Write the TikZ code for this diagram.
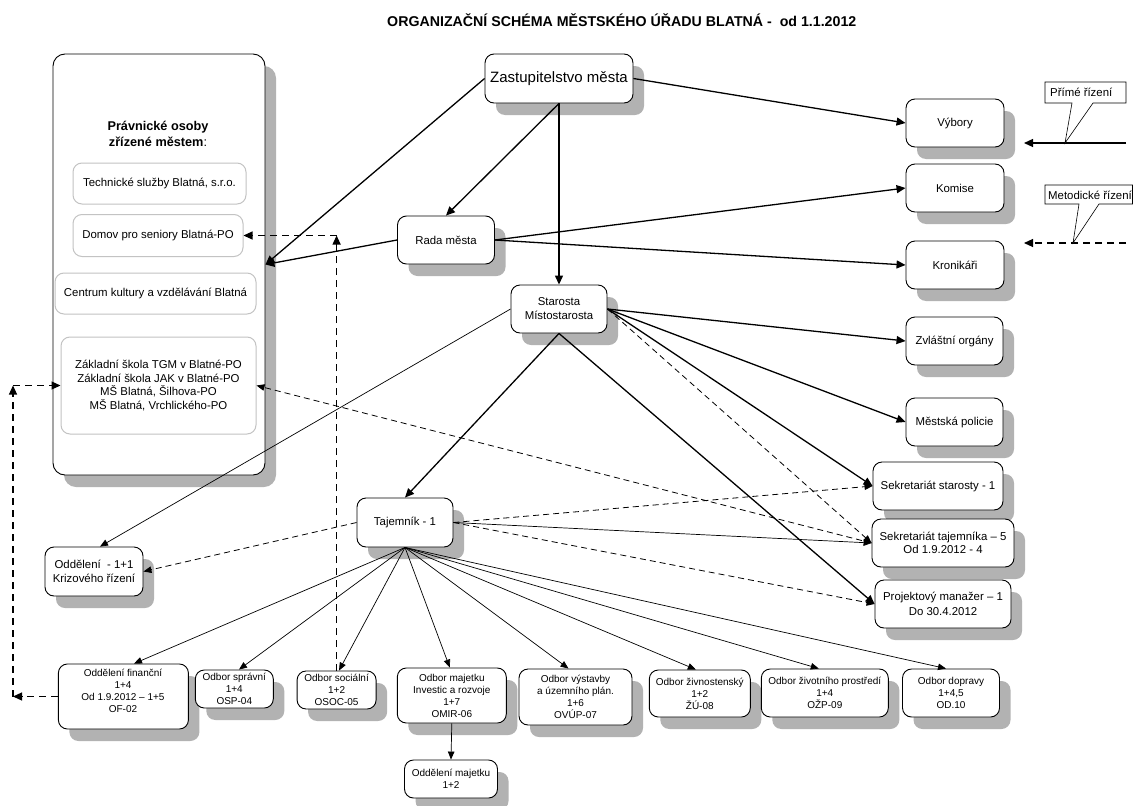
\documentclass[tikz,border=0pt]{standalone}
\usepackage{fontspec}
\setmainfont{Liberation Sans}
\usetikzlibrary{arrows.meta,shadows}
\definecolor{shd}{RGB}{178,178,178}
\definecolor{inb}{RGB}{195,195,195}
\begin{document}
\begin{tikzpicture}[x=1pt,y=-1pt,
 base/.style={draw, rounded corners=9pt, fill=white, line width=0.9pt, inner sep=0pt, align=center},
 box/.style={base, drop shadow={shadow xshift=11pt, shadow yshift=-12pt, fill=shd, opacity=1}},
 inbox/.style={draw=inb, rounded corners=9pt, fill=white, line width=1pt, inner sep=0pt, align=center},
 fA/.style={font=\fontsize{11.4pt}{13.4pt}\selectfont},
 fR/.style={font=\fontsize{11.4pt}{14pt}\selectfont},
 fB/.style={font=\fontsize{10pt}{12pt}\selectfont},
 tipA/.style={-{Triangle[length=9pt,width=8pt]}},
 thk/.style={line width=1.3pt, tipA},
 thn/.style={line width=0.7pt, -{Triangle[length=8pt,width=6.5pt]}},
 dsh/.style={line width=0.8pt, dash pattern=on 6pt off 4pt, -{Triangle[length=8pt,width=6.5pt]}},
 dshb/.style={line width=1.1pt, dash pattern=on 7pt off 5pt, tipA},
 callout/.style={line width=0.6pt, fill=white}
]
\useasboundingbox (0,0) rectangle (1133,806);

% title
\node[anchor=base west, inner sep=0pt, font=\bfseries\fontsize{14.2pt}{16pt}\selectfont] (title) at (387,26)
  {ORGANIZAČNÍ SCHÉMA MĚSTSKÉHO ÚŘADU BLATNÁ -\ \ od 1.1.2012};

% left big box
\node[box, rounded corners=12pt, minimum width=212pt, minimum height=421pt] (big) at (159,264.5) {};
\node[inner sep=0pt, align=center, font=\bfseries\fontsize{12.7pt}{16pt}\selectfont] (pravo) at (158,134)
  {Právnické osoby\\zřízené městem\mdseries:};
\node[inbox, fA, minimum width=173pt, minimum height=41pt] (tech) at (159.5,183.5) {Technické služby Blatná, s.r.o.};
\node[inbox, fA, minimum width=170pt, minimum height=42pt] (domov) at (158,235.5) {Domov pro seniory Blatná-PO};
\node[inbox, fA, minimum width=201pt, minimum height=41pt] (centrum) at (155.5,293.5) {Centrum kultury a vzdělávání Blatná};
\node[inbox, fA, minimum width=195pt, minimum height=97pt] (skola) at (158.5,385.5)
  {Základní škola TGM v Blatné-PO\\Základní škola JAK v Blatné-PO\\MŠ Blatná, Šilhova-PO\\MŠ Blatná, Vrchlického-PO};

% central nodes
\node[box, minimum width=148pt, minimum height=49pt, font=\fontsize{15pt}{17pt}\selectfont] (zast) at (559,78.5) {Zastupitelstvo města};
\node[box, fR, minimum width=97pt, minimum height=48pt] (rada) at (446,240) {Rada města};
\node[box, fR, minimum width=96pt, minimum height=48pt] (star) at (559,309) {Starosta\\Místostarosta};
\node[box, fA, minimum width=96pt, minimum height=49pt] (taj) at (405,522.5) {Tajemník - 1};
\node[box, minimum width=98pt, minimum height=49pt, font=\fontsize{11.4pt}{14.5pt}\selectfont] (kriz) at (94,571.5) {Oddělení \ - 1+1\\Krizového řízení};

% right column
\node[box, fA, minimum width=98pt, minimum height=48pt] (vybory) at (955,123) {Výbory};
\node[box, fA, minimum width=98pt, minimum height=48pt] (komise) at (955,188) {Komise};
\node[box, fA, minimum width=98pt, minimum height=48pt] (kron) at (955,265) {Kronikáři};
\node[box, fA, minimum width=97pt, minimum height=48pt] (zvl) at (954.5,341) {Zvláštní orgány};
\node[box, fA, minimum width=97pt, minimum height=48pt] (pol) at (954.5,422) {Městská policie};
\node[box, fA, minimum width=130pt, minimum height=48pt] (sekrst) at (938,486) {Sekretariát starosty - 1};
\node[box, fA, minimum width=142pt, minimum height=48pt] (sekrtaj) at (943,543) {Sekretariát tajemníka – 5\\Od 1.9.2012 - 4};
\node[box, minimum width=136pt, minimum height=48pt, font=\fontsize{11.4pt}{14.3pt}\selectfont] (proj) at (943,604) {Projektový manažer – 1\\Do 30.4.2012};

% bottom row
\node[box, minimum width=130pt, minimum height=65pt] (fin) at (123.4,696.5) {};
\node[fB, inner sep=0pt, align=center] (fintext) at (123,691) {Oddělení finanční\\1+4\\Od 1.9.2012 – 1+5\\OF-02};
\node[box, fB, minimum width=78pt, minimum height=38pt] (sprav) at (234.3,689) {Odbor správní\\1+4\\OSP-04};
\node[box, fB, minimum width=79pt, minimum height=38pt] (soc) at (336.6,690) {Odbor sociální\\1+2\\OSOC-05};
\node[box, fB, minimum width=109pt, minimum height=55pt] (maj) at (451.8,695.5) {Odbor majetku\\Investic a rozvoje\\1+7\\OMIR-06};
\node[box, fB, minimum width=93pt, minimum height=38pt] (oddmaj) at (451,779) {Oddělení majetku\\1+2};
\node[box, fB, minimum width=113pt, minimum height=56pt] (vyst) at (575.5,697) {Odbor výstavby\\a územního plán.\\1+6\\OVÚP-07};
\node[box, fB, minimum width=101pt, minimum height=47pt] (zivn) at (699.8,693.5) {Odbor živnostenský\\1+2\\ŽÚ-08};
\node[box, fB, minimum width=127pt, minimum height=48pt] (zp) at (824.8,693) {Odbor životního prostředí\\1+4\\OŽP-09};
\node[box, fB, minimum width=97pt, minimum height=48pt] (dop) at (951,693) {Odbor dopravy\\1+4,5\\OD.10};

% connectors: top part
\draw[thk] (zast.west) -- (big.east);
\draw[thk] (rada.west) -- (big.east);
\draw[thk] (zast.south) -- (rada.north);
\draw[thk] (zast.south) -- (star.north);
\draw[thk] (zast.east) -- (vybory.west);
\draw[thk] (rada.east) -- (komise.west);
\draw[thk] (rada.east) -- (kron.west);
\draw[thk] (star.east) -- (zvl.west);
\draw[thk] (star.east) -- (pol.west);
\draw[thk] (star.east) -- (sekrst.west);
\draw[thk] (star.south) -- (taj.north);
\draw[thk] (star.south) -- (proj.west);
\draw[thn] (star.west) -- ([xshift=6pt]kriz.north);
\draw[dsh] (star.east) -- (sekrtaj.west);
\draw[dsh] (sekrtaj.west) -- (skola.east);

% Tajemnik connectors
\draw[dsh] (taj.east) -- (sekrst.west);
\draw[thn] (taj.east) -- (sekrtaj.west);
\draw[dsh] (taj.east) -- (proj.west);
\draw[dsh] (taj.west) -- (kriz.east);
\draw[thn] (taj.south) -- ([xshift=10.6pt]fin.north);
\draw[thn] (taj.south) -- ([xshift=4.7pt]sprav.north);
\draw[thn] (taj.south) -- ([xshift=2.4pt]soc.north);
\draw[thn] (taj.south) -- ([xshift=-2pt]maj.north);
\draw[thn] (taj.south) -- ([xshift=-7pt]vyst.north);
\draw[thn] (taj.south) -- ([xshift=-4pt]zivn.north);
\draw[thn] (taj.south) -- ([xshift=-6pt]zp.north);
\draw[thn] (taj.south) -- ([xshift=-5pt]dop.north);
\draw[thn] (maj.south) -- (oddmaj.north);

% dashed links to legal entities
\coordinate (fc1) at (13,696.5);
\coordinate (fc2) at (13,385.5);
\draw[dshb] (fin.west) -- (fc1);
\draw[dshb] (fc1) -- (fc2);
\draw[dshb] (fc2) -- (skola.west);
\coordinate (sc0) at (336.6,671);
\coordinate (sc1) at (336.6,235.5);
\draw[dshb] (sc0) -- (sc1);
\draw[dshb] (sc1) -- (domov.east);

% legend
\coordinate (l1a) at (1126,143);
\coordinate (l1b) at (1024,143);
\draw[thk] (l1a) -- (l1b);
\coordinate (l2a) at (1126,243);
\coordinate (l2b) at (1024,243);
\draw[dshb] (l2a) -- (l2b);
\draw[callout] (1045,82) -- (1126,82) -- (1126,103) -- (1093,103) -- (1065,143) -- (1072,103) -- (1045,103) -- cycle;
\node[fA, anchor=west, inner sep=0pt] (lgprime) at (1050,92) {Přímé řízení};
\draw[callout] (1045,185) -- (1132.5,185) -- (1132.5,204) -- (1099,204) -- (1073,243) -- (1079,204) -- (1045,204) -- cycle;
\node[fA, anchor=west, inner sep=0pt] (lgmet) at (1048,195) {Metodické řízení};
\end{tikzpicture}
\end{document}
